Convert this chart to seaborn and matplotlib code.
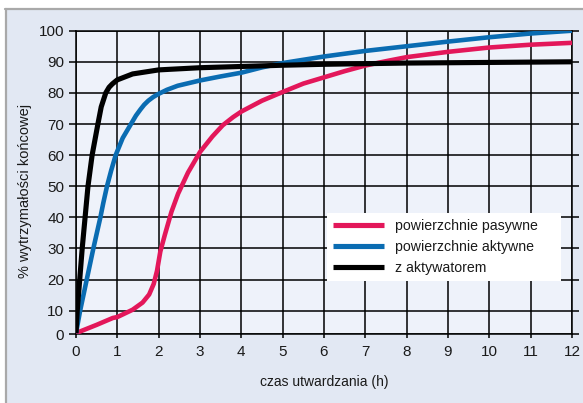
import numpy as np
import pandas as pd
import matplotlib
matplotlib.use("Agg")
import matplotlib.pyplot as plt
from matplotlib.patches import Rectangle
from matplotlib.lines import Line2D
import seaborn as sns

# Curing curves: % of final strength versus curing time (h)
x_pasywne = [0, 0.5, 0.89, 1, 1.37, 1.61, 1.77, 1.88, 1.96, 2.04, 2.15, 2.31, 2.47, 2.71,
             3, 3.3, 3.55, 3.8, 4, 4.5, 5, 5.5, 6, 6.5, 7, 7.5, 8, 9, 10, 11, 12]
y_pasywne = [0.5, 4, 6.9, 7.3, 10.3, 12.6, 15.2, 18.6, 22.8, 29, 34.4, 41.8, 47.6, 54.4,
             61, 66, 69.6, 72.2, 74, 77.5, 80.3, 83, 85, 87, 88.8, 90.2, 91.5, 93.2, 94.6,
             95.5, 96.1]

x_aktywne = [0, 0.1, 0.26, 0.42, 0.59, 0.66, 0.75, 0.85, 0.96, 1.13, 1.33, 1.45, 1.56, 1.65,
             1.75, 1.87, 2, 2.2, 2.46, 3, 3.5, 4, 4.5, 5, 6, 7, 8, 9, 10, 11, 12]
y_aktywne = [0.5, 10, 20, 30, 40, 44.6, 50, 55, 60, 65.5, 70, 72.7, 74.7, 76.2,
             77.5, 78.7, 79.7, 81, 82.3, 84, 85.3, 86.5, 88.2, 89.6, 91.7, 93.5, 95, 96.5,
             97.9, 99.1, 100]

x_aktywator = [0, 0.03, 0.09, 0.15, 0.22, 0.29, 0.39, 0.53, 0.61, 0.72, 0.8, 0.88, 1,
               1.37, 2, 3, 4, 5, 6, 8, 10, 12]
y_aktywator = [0.5, 10, 20, 30, 40, 50, 60, 70, 75.5, 80, 81.8, 82.9, 84.2,
               86.1, 87.4, 88.1, 88.5, 88.9, 89.2, 89.6, 89.8, 90]

series_names = ["powierzchnie pasywne", "powierzchnie aktywne", "z aktywatorem"]
series_colors = ["#e3175a", "#0a6cb2", "#000000"]
x_ticks = list(range(0, 13))
y_ticks = list(range(0, 101, 10))

df = pd.concat([
    pd.DataFrame({"czas": x_pasywne, "wytrzymalosc": y_pasywne, "seria": series_names[0]}),
    pd.DataFrame({"czas": x_aktywne, "wytrzymalosc": y_aktywne, "seria": series_names[1]}),
    pd.DataFrame({"czas": x_aktywator, "wytrzymalosc": y_aktywator, "seria": series_names[2]}),
], ignore_index=True)

sns.set_theme(style="white")
plt.rcParams["font.family"] = ["Liberation Sans", "DejaVu Sans"]

W, H = 583, 403
fig = plt.figure(figsize=(W / 100, H / 100), dpi=100)
fig.patch.set_facecolor("white")

# outer panel with a grey border on top and left
panel = Rectangle((6 / W, 0), 1, (H - 9) / H, transform=fig.transFigure,
                  facecolor="#e2e8f3", edgecolor="none", zorder=-10)
fig.add_artist(panel)
fig.add_artist(Line2D([5 / W, 1], [(H - 8.5) / H] * 2, transform=fig.transFigure,
                      color="#a9a9a9", linewidth=1.6, zorder=-9))
fig.add_artist(Line2D([5.5 / W] * 2, [0, (H - 8.5) / H], transform=fig.transFigure,
                      color="#a9a9a9", linewidth=1.6, zorder=-9))

ax = fig.add_axes([76 / W, (H - 334.3) / H, 496 / W, (334.3 - 30.7) / H])
ax.set_zorder(1)
ax.set_facecolor("#eef2fa")

# compressed band between 0 and 10 on the strength axis
k = 0.76
def fwd(y):
    y = np.asarray(y, dtype=float)
    return np.where(y < 10, y * k, y - 10 + 10 * k)
def inv(u):
    u = np.asarray(u, dtype=float)
    return np.where(u < 10 * k, u / k, u + 10 - 10 * k)
ax.set_yscale("function", functions=(fwd, inv))

sns.lineplot(data=df, x="czas", y="wytrzymalosc", hue="seria", hue_order=series_names,
             palette=dict(zip(series_names, series_colors)), estimator=None, sort=False,
             linewidth=3.3, ax=ax, legend=False, zorder=3)
for line in ax.lines:
    line.set_solid_capstyle("butt")
    line.set_solid_joinstyle("round")
ax.lines[2].set_linewidth(3.7)

ax.set_xlim(0, 12)
ax.set_ylim(0, 100)
ax.set_xticks(x_ticks)
ax.set_yticks(y_ticks)
ax.set_xticklabels([str(v) for v in x_ticks])
ax.set_yticklabels([str(v) for v in y_ticks])
ax.minorticks_off()
ax.grid(True, color="black", linewidth=1.1)
for s in ax.spines.values():
    s.set_visible(True)
    s.set_color("black")
    s.set_linewidth(1.1)

ax.tick_params(axis="y", which="major", left=True, right=True, length=5, width=1.1,
               direction="out", pad=3.5, labelsize=11, colors="black")
ax.tick_params(axis="y", which="major", right=True, labelright=False)
ax.tick_params(axis="x", which="major", bottom=True, length=3, width=1.1,
               direction="out", pad=5, labelsize=11, colors="black")
for t in ax.get_yticklabels() + ax.get_xticklabels():
    t.set_color("#1a1a1a")

ax.set_xlabel("czas utwardzania (h)", fontsize=10, color="#1a1a1a")
ax.set_ylabel("% wytrzymałości końcowej", fontsize=10.5, color="#1a1a1a")
ax.xaxis.label.set_va("center")
ax.yaxis.label.set_va("center")
ax.xaxis.set_label_coords(0.5, (334.3 - 382) / (334.3 - 30.7))
ax.yaxis.set_label_coords((25 - 76) / 496, (334.3 - 191) / (334.3 - 30.7))

handles = [Line2D([], [], color=c, linewidth=3.7, solid_capstyle="butt") for c in series_colors]
ph = 334.3 - 30.7
leg = ax.legend(handles, series_names, loc="upper left", mode="expand",
                bbox_to_anchor=((327 - 76) / 496, (334.3 - 281) / ph, 234 / 496, 68 / ph),
                frameon=True, fancybox=False, framealpha=1, edgecolor="white",
                facecolor="white", fontsize=10.2, handlelength=3.6, handletextpad=0.75,
                labelspacing=0.5, borderpad=0.42, borderaxespad=0)
leg.get_frame().set_linewidth(0)
leg.set_zorder(5)
for t in leg.get_texts():
    t.set_color("#1a1a1a")

fig.savefig("out.png", dpi=100, facecolor=fig.get_facecolor())
